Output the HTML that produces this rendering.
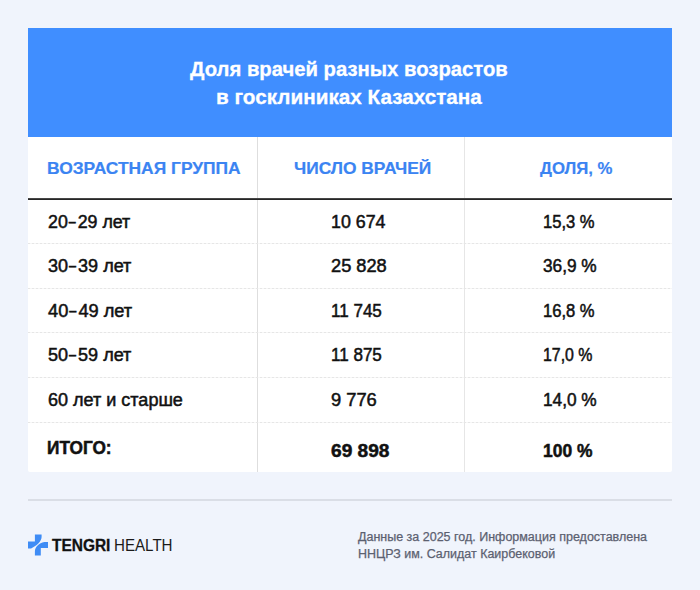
<!DOCTYPE html>
<html>
<head>
<meta charset="utf-8">
<style>
html,body{margin:0;padding:0;}
body{width:700px;height:590px;overflow:hidden;background:#f0f4fc;position:relative;font-family:"Liberation Sans",sans-serif;}
.card{position:absolute;left:28px;top:28px;width:644px;height:444px;background:#fff;border-radius:0 0 2px 2px;overflow:hidden;}
.hdr{position:absolute;left:28px;top:28px;width:644px;height:109px;background:#408eff;}
.vl{position:absolute;top:137px;height:335px;width:1px;background:#dedede;}
.hline{position:absolute;left:28px;top:198px;width:644px;height:1px;background:#464646;border-bottom:1px solid #262626;}
.sep{position:absolute;left:28px;width:644px;height:1px;background:repeating-linear-gradient(90deg,#e6e6e6 0 2px,#f6f6f6 2px 4px);}
.fline{position:absolute;left:28px;top:499px;width:644px;height:2px;background:#dadee6;}
.t1,.t2,.th,.td,.tb,.nt,.br1,.br2{position:absolute;white-space:nowrap;transform-origin:0 0;}
.t1,.t2{color:#fff;font-weight:bold;font-size:20.4px;line-height:24px;-webkit-text-stroke:0.3px #fff;}
.th{color:#3b84f2;font-weight:bold;font-size:16px;line-height:20px;-webkit-text-stroke:0.2px #3b84f2;}
.td{color:#111;font-size:17.5px;line-height:20px;-webkit-text-stroke:0.5px #111;}
.tb{color:#111;font-size:17.5px;line-height:20px;font-weight:bold;-webkit-text-stroke:0.5px #111;}
.nt{color:#5b6070;font-size:12.5px;line-height:16px;-webkit-text-stroke:0.25px #5b6070;}
.br1{color:#111;font-size:16px;line-height:18px;font-weight:bold;-webkit-text-stroke:0.3px #111;}
.br2{color:#1a1a1a;font-size:16px;line-height:18px;}
.logo{position:absolute;left:28px;top:534px;}
.dash{display:inline-block;transform:translateY(-0.8px) scaleX(0.7);}
</style>
</head>
<body>
<div class="card"></div>
<div class="hdr"></div>
<div class="vl" style="left:257px"></div>
<div class="vl" style="left:464px;background:#e6e6e6"></div>
<div class="hline"></div>
<div class="sep" style="top:243px"></div>
<div class="sep" style="top:288px"></div>
<div class="sep" style="top:332px"></div>
<div class="sep" style="top:377px"></div>
<div class="sep" style="top:422px"></div>
<div class="t1" style="left:190.23px;top:56.88px;transform:scaleX(0.9938)">Доля врачей разных возрастов</div>
<div class="t2" style="left:215.82px;top:85.28px;transform:scaleX(1.015)">в госклиниках Казахстана</div>
<div class="th" style="left:47.27px;top:159.47px;transform:scaleX(1.0876)">ВОЗРАСТНАЯ ГРУППА</div>
<div class="th" style="left:294.38px;top:159.47px;transform:scaleX(1.085)">ЧИСЛО ВРАЧЕЙ</div>
<div class="th" style="left:539.58px;top:159.47px;transform:scaleX(1.0464)">ДОЛЯ, %</div>
<div class="td" style="left:47.88px;top:211.78px;transform:scaleX(1.0168)">20<span class="dash">–</span>29 лет</div>
<div class="td" style="left:330.68px;top:211.78px;transform:scaleX(1.0189)">10 674</div>
<div class="td" style="left:542.98px;top:211.78px;transform:scaleX(0.9473)">15,3 %</div>
<div class="td" style="left:47.88px;top:255.88px;transform:scaleX(1.0305)">30<span class="dash">–</span>39 лет</div>
<div class="td" style="left:330.68px;top:255.88px;transform:scaleX(1.0418)">25 828</div>
<div class="td" style="left:542.98px;top:255.88px;transform:scaleX(0.9859)">36,9 %</div>
<div class="td" style="left:48.17px;top:300.77px;transform:scaleX(1.0409)">40<span class="dash">–</span>49 лет</div>
<div class="td" style="left:330.68px;top:300.77px;transform:scaleX(0.9736)">11 745</div>
<div class="td" style="left:542.98px;top:300.77px;transform:scaleX(0.9473)">16,8 %</div>
<div class="td" style="left:47.88px;top:345.27px;transform:scaleX(1.0305)">50<span class="dash">–</span>59 лет</div>
<div class="td" style="left:330.68px;top:345.27px;transform:scaleX(0.9736)">11 875</div>
<div class="td" style="left:542.98px;top:345.27px;transform:scaleX(0.9088)">17,0 %</div>
<div class="td" style="left:47.88px;top:390.18px;transform:scaleX(1.0295)">60 лет и старше</div>
<div class="td" style="left:330.68px;top:390.18px;transform:scaleX(1.0459)">9 776</div>
<div class="td" style="left:542.98px;top:390.18px;transform:scaleX(0.9859)">14,0 %</div>
<div class="tb" style="left:46.77px;top:437.77px;transform:scaleX(0.9854)">ИТОГО:</div>
<div class="tb" style="left:330.57px;top:441.18px;transform:scaleX(1.0931)">69 898</div>
<div class="tb" style="left:542.88px;top:441.18px;transform:scaleX(0.9965)">100 %</div>
<div class="fline"></div>
<svg class="logo" width="20" height="22" viewBox="0 0 20 22">
  <path fill="#3f8cf5" d="M6.9,0.5 H13.6 V3.1 C13.6,7 9,12 3.1,14.4 L0,14.5 V7.6 H6.9 Z"/>
  <path fill="#3f8cf5" d="M20,7.9 V14 H12.8 V21.6 H6.9 V17.4 C6.9,13 11,9 16.4,7.9 Z"/>
</svg>
<div class="br1" style="left:52.27px;top:536.88px;transform:scaleX(0.9664)">TENGRI</div>
<div class="br2" style="left:114.03px;top:536.88px;transform:scaleX(0.9452)">HEALTH</div>
<div class="nt" style="left:357.57px;top:528.88px;transform:scaleX(0.9996)">Данные за 2025 год. Информация предоставлена</div>
<div class="nt" style="left:357.57px;top:545.88px;transform:scaleX(0.9974)">ННЦРЗ им. Салидат Каирбековой</div>
</body>
</html>
